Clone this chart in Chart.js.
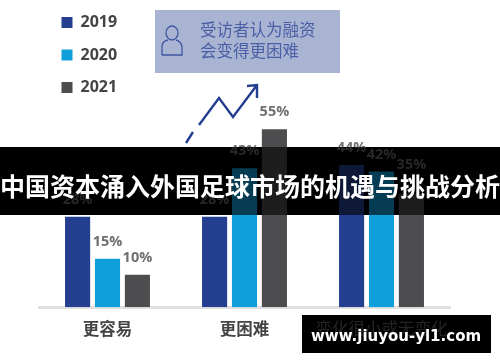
<!DOCTYPE html>
<html>
<head>
<meta charset="utf-8">
<script src="https://cdn.jsdelivr.net/npm/chart.js@4"></script>
<style>
  html, body { margin: 0; padding: 0; background: #fff; }
  #wrap { width: 500px; height: 362px; }
</style>
</head>
<body>
<div id="wrap"><canvas id="grafica"></canvas></div>
<script>
const categorias = ["更容易", "更困难", "变化很小或无变化"];
const datos2019 = [28, 28, 44];
const datos2020 = [15, 43, 42];
const datos2021 = [10, 55, 35];
const callout = ["受访者认为融资", "会变得更困难"];
const banner = "中国资本涌入外国足球市场的机遇与挑战分析";
const watermark = "www.jiuyou-yl1.com";

const cjk = '"Noto Sans CJK SC", sans-serif';

function drawLabels(ctx, chart) {
  ctx.font = "bold 14.5px 'Open Sans', sans-serif";
  ctx.fillStyle = "#707072";
  ctx.textAlign = "center";
  ctx.textBaseline = "middle";
  chart.data.datasets.forEach((ds, i) => {
    chart.getDatasetMeta(i).data.forEach((bar, j) => {
      // la etiqueta del 35% va mas arriba en el original
      const extra = (i === 2 && j === 2) ? 12 : 0;
      ctx.fillText(ds.data[j] + "%", bar.x, bar.y - 17 - extra);
    });
  });
}

function drawBars(ctx, chart) {
  chart.data.datasets.forEach((ds, i) => {
    chart.getDatasetMeta(i).data.forEach(bar => bar.draw(ctx));
  });
}

const decoracion = {
  id: "decoracion",
  beforeDraw(chart) {
    // mover la leyenda a su sitio
    chart.legend.left = 45;
    chart.legend.top = -2;
  },
  afterDraw(chart) {
    const ctx = chart.ctx;
    ctx.save();

    // etiquetas de valor
    drawLabels(ctx, chart);

    // recuadro
    ctx.fillStyle = "#a9b4d3";
    ctx.fillRect(155, 10, 185, 63);
    ctx.fillStyle = "#4a5fa5";
    ctx.font = "16.5px " + cjk;
    ctx.textAlign = "left";
    ctx.textBaseline = "middle";
    ctx.fillText(callout[0], 200, 30);
    ctx.fillText(callout[1], 200, 51);

    // icono persona
    ctx.strokeStyle = "#3f56a0";
    ctx.lineWidth = 1.3;
    ctx.beginPath();
    ctx.ellipse(172, 33, 6, 7, 0, 0, Math.PI * 2);
    ctx.stroke();
    ctx.beginPath();
    ctx.moveTo(162, 55);
    ctx.lineTo(182, 55);
    ctx.lineTo(182, 47);
    ctx.quadraticCurveTo(181, 41, 176, 40);
    ctx.moveTo(168, 40);
    ctx.quadraticCurveTo(162, 41, 162, 47);
    ctx.lineTo(162, 55);
    ctx.stroke();

    // flecha
    ctx.strokeStyle = "#243e90";
    ctx.lineWidth = 2.4;
    ctx.beginPath();
    ctx.moveTo(186, 143);
    ctx.lineTo(193, 132);
    ctx.moveTo(199, 125);
    ctx.lineTo(219, 98);
    ctx.lineTo(233, 117);
    ctx.lineTo(257, 85);
    ctx.moveTo(247, 86);
    ctx.lineTo(257, 85);
    ctx.lineTo(257, 98);
    ctx.stroke();

    // franja negra con las barras apenas visibles
    ctx.fillStyle = "#000";
    ctx.fillRect(0, 147, 500, 68);
    ctx.save();
    ctx.beginPath();
    ctx.rect(0, 147, 500, 68);
    ctx.clip();
    ctx.globalAlpha = 0.38;
    drawBars(ctx, chart);
    ctx.globalAlpha = 0.35;
    drawLabels(ctx, chart);
    ctx.restore();
    ctx.fillStyle = "#fff";
    ctx.font = "bold 25px " + cjk;
    ctx.textAlign = "center";
    ctx.textBaseline = "middle";
    ctx.fillText(banner, 250, 186);

    // marca de agua
    ctx.fillStyle = "#000";
    ctx.fillRect(302, 315, 189, 38);
    const esc = chart.scales.x;
    ctx.save();
    ctx.globalAlpha = 0.3;
    ctx.fillStyle = "#777";
    ctx.font = "16.5px " + cjk;
    ctx.fillText(categorias[2], esc.getPixelForTick(2), 329);
    ctx.restore();
    ctx.fillStyle = "#fff";
    ctx.font = "bold 15px 'DejaVu Sans', sans-serif";
    ctx.fillText(watermark, 396, 337);

    ctx.restore();
  }
};

const ctx1 = document.getElementById("grafica").getContext("2d");

new Chart(ctx1, {
  type: "bar",
  data: {
    labels: categorias,
    datasets: [
      { label: "2019", backgroundColor: "#243e90", data: datos2019 },
      { label: "2020", backgroundColor: "#0f9fdb", data: datos2020 },
      { label: "2021", backgroundColor: "#4d4d4f", data: datos2021 },
    ],
  },
  options: {
    responsive: true,
    maintainAspectRatio: false,
    animation: false,
    barPercentage: 0.84,
    categoryPercentage: 0.655,
    layout: { padding: { left: 39, right: 50, top: 0, bottom: 19 } },
    scales: {
      x: {
        grid: { display: false },
        border: { color: "#e0e0e0", width: 3 },
        ticks: {
          color: "#444446",
          padding: 4,
          maxRotation: 0,
          autoSkip: false,
          font: { family: cjk, size: 16.5, weight: "bold" },
        },
      },
      y: { display: false, min: 0, max: 95 },
    },
    plugins: {
      tooltip: { enabled: false },
      title: { display: false },
      legend: {
        position: "chartArea",
        align: "start",
        labels: {
          boxWidth: 11,
          boxHeight: 11,
          padding: 16.5,
          color: "#444446",
          font: { family: "'Open Sans', sans-serif", size: 16, weight: "bold" },
        },
      },
    },
  },
  plugins: [decoracion],
});
</script>
</body>
</html>
